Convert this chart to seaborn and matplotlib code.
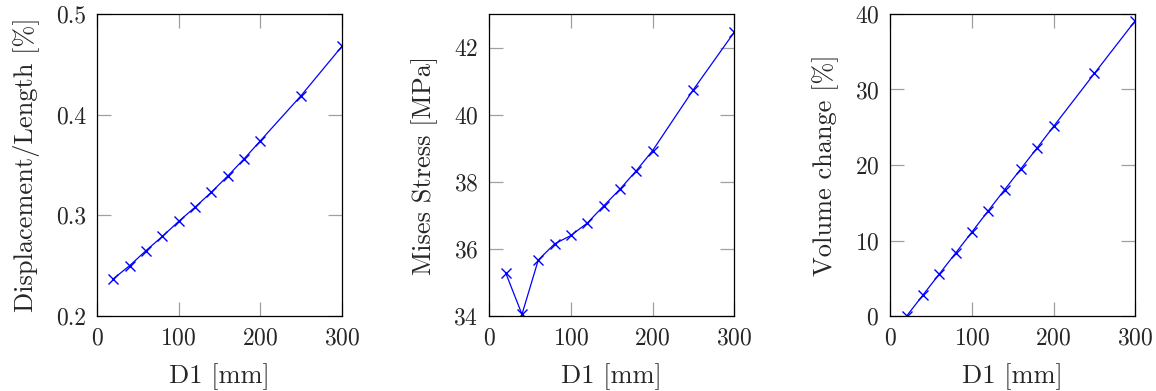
import matplotlib
matplotlib.use("Agg")
import matplotlib.pyplot as plt
import seaborn as sns
import pandas as pd

# Shared x positions of the parameter sweep
d1_mm = [20, 40, 60, 80, 100, 120, 140, 160, 180, 200, 250, 300]

# Results per sweep position
displacement_ratio = [0.237, 0.250, 0.265, 0.279, 0.294, 0.308, 0.323, 0.339,
                      0.356, 0.374, 0.419, 0.468]
mises_stress = [35.29, 34.05, 35.67, 36.15, 36.40, 36.77, 37.28, 37.78,
                38.33, 38.93, 40.75, 42.46]
volume_change = [0.0, 2.78, 5.56, 8.34, 11.13, 13.95, 16.73, 19.51,
                 22.30, 25.12, 32.14, 39.12]

y_labels = ["Displacement/Length [%]", "Mises Stress [MPa]", "Volume change [%]"]
y_limits = [(0.2, 0.5), (34, 43), (0, 40)]
y_ticks = [[0.2, 0.3, 0.4, 0.5], [34, 36, 38, 40, 42], [0, 10, 20, 30, 40]]
x_label = "D1 [mm]"
x_ticks = [0, 100, 200, 300]

sns.set_theme(style="ticks")
plt.rcParams["font.family"] = ["cmr10", "DejaVu Serif"]
plt.rcParams["axes.formatter.use_mathtext"] = True
plt.rcParams["mathtext.fontset"] = "cm"

fig = plt.figure(figsize=(11.56, 3.91), dpi=100)
lefts = [97 / 1156, 489.3 / 1156, 890.3 / 1156]
width = 245 / 1156
bottom = 1 - 316 / 391
height = 302 / 391

series = [displacement_ratio, mises_stress, volume_change]
for i, values in enumerate(series):
    ax = fig.add_axes([lefts[i], bottom, width, height])
    df = pd.DataFrame({"x": d1_mm, "y": values})
    sns.lineplot(data=df, x="x", y="y", ax=ax, color="blue", marker="x",
                 markersize=7, markeredgewidth=1.0, markeredgecolor="blue",
                 linewidth=0.9)
    ax.set_xlim(0, 300)
    ax.set_ylim(*y_limits[i])
    ax.set_xticks(x_ticks)
    ax.set_yticks(y_ticks[i])
    if i == 0:
        ax.set_yticklabels([f"{t:.1f}" for t in y_ticks[i]])
    ax.set_xlabel(x_label, fontsize=19, labelpad=10)
    ax.set_ylabel(y_labels[i], fontsize=19, labelpad=11)
    ax.tick_params(direction="in", length=10, width=0.9, color="#a0a0a0",
                   top=True, right=True, labelsize=17, pad=8)
    for s in ax.spines.values():
        s.set_visible(True)
        s.set_color("black")
        s.set_linewidth(0.9)

fig.savefig("out.png", dpi=100)
